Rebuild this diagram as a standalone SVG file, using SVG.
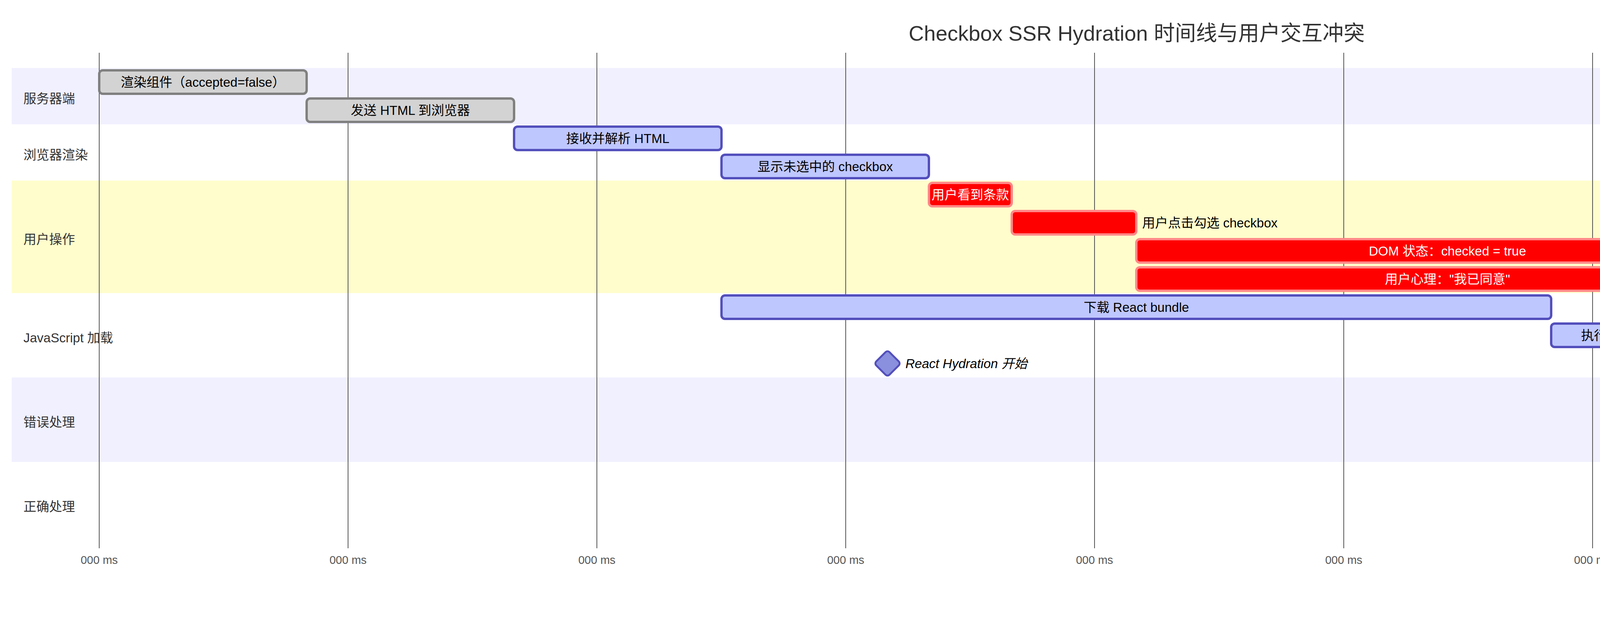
<svg xmlns="http://www.w3.org/2000/svg" width="5820" height="1584" viewBox="0 0 5820 1584">
<style>
text{font-family:"Liberation Sans","Noto Sans CJK SC",sans-serif;}
.title{font-size:54px;fill:#333;text-anchor:middle;}
.sec{font-size:33px;fill:#333;dominant-baseline:central;}
.grid{stroke:#555;stroke-width:2;}
.tick{font-size:29px;fill:#555;text-anchor:middle;}
.bar{stroke-width:6;}
.done{fill:#d3d3d3;stroke:#808080;}
.active{fill:#bfc7ff;stroke:#534fbc;}
.crit{fill:#ff0000;stroke:#ff8888;}
.tin{font-size:33px;text-anchor:middle;dominant-baseline:central;fill:#000;}
.tw{fill:#fff;}
.tout{font-size:33px;dominant-baseline:central;fill:#000;}
.ms{fill:#8a90dd;stroke:#534fbc;stroke-width:4.8;}
.mst{font-size:33px;font-style:italic;dominant-baseline:central;fill:#000;}
.x{fill:#dd2e44;}
.wm{font-size:26px;fill:#a8a8a8;}
</style>
<rect x="0" y="0" width="5820" height="1584" fill="#ffffff"/>
<text class="title" x="2910" y="104">Checkbox SSR Hydration 时间线与用户交互冲突</text>
<g id="sections">
<rect x="30" y="174" width="5648" height="144" fill="#f0f0ff"/>
<rect x="30" y="318" width="5648" height="144" fill="#ffffff"/>
<rect x="30" y="462" width="5648" height="288" fill="#fffdcc"/>
<rect x="30" y="750" width="5648" height="216" fill="#ffffff"/>
<rect x="30" y="966" width="5648" height="216" fill="#f0f0ff"/>
<rect x="30" y="1182" width="5648" height="216" fill="#ffffff"/>
<text class="sec" x="60" y="252">服务器端</text>
<text class="sec" x="60" y="396">浏览器渲染</text>
<text class="sec" x="60" y="612">用户操作</text>
<text class="sec" x="60" y="864">JavaScript 加载</text>
<text class="sec" x="60" y="1080">错误处理</text>
<text class="sec" x="60" y="1296">正确处理</text>
</g>
<g id="axis">
<line class="grid" x1="254" y1="135" x2="254" y2="1403"/>
<line class="grid" x1="891" y1="135" x2="891" y2="1403"/>
<line class="grid" x1="1528" y1="135" x2="1528" y2="1403"/>
<line class="grid" x1="2165" y1="135" x2="2165" y2="1403"/>
<line class="grid" x1="2802" y1="135" x2="2802" y2="1403"/>
<line class="grid" x1="3440" y1="135" x2="3440" y2="1403"/>
<line class="grid" x1="4077" y1="135" x2="4077" y2="1403"/>
<line class="grid" x1="4714" y1="135" x2="4714" y2="1403"/>
<line class="grid" x1="5351" y1="135" x2="5351" y2="1403"/>
<text class="tick" x="254" y="1443">000 ms</text>
<text class="tick" x="891" y="1443">000 ms</text>
<text class="tick" x="1528" y="1443">000 ms</text>
<text class="tick" x="2165" y="1443">000 ms</text>
<text class="tick" x="2802" y="1443">000 ms</text>
<text class="tick" x="3440" y="1443">000 ms</text>
<text class="tick" x="4077" y="1443">000 ms</text>
<text class="tick" x="4714" y="1443">000 ms</text>
<text class="tick" x="5351" y="1443">000 ms</text>
</g>
<g id="connectors"></g>
<g id="task-render">
<rect class="bar done" x="254" y="180" width="531" height="60" rx="9"/>
<text class="tin" x="519.5" y="210">渲染组件（accepted=false）</text>
</g>
<g id="task-send">
<rect class="bar done" x="785" y="252" width="531" height="60" rx="9"/>
<text class="tin" x="1050.5" y="282">发送 HTML 到浏览器</text>
</g>
<g id="task-parse">
<rect class="bar active" x="1316" y="324" width="531" height="60" rx="9"/>
<text class="tin" x="1581.5" y="354">接收并解析 HTML</text>
</g>
<g id="task-show">
<rect class="bar active" x="1847" y="396" width="531" height="60" rx="9"/>
<text class="tin" x="2112.5" y="426">显示未选中的 checkbox</text>
</g>
<g id="task-see">
<rect class="bar crit" x="2378" y="468" width="212" height="60" rx="9"/>
<text class="tin tw" x="2484" y="498">用户看到条款</text>
</g>
<g id="task-click">
<rect class="bar crit" x="2590" y="540" width="319" height="60" rx="9"/>
<text class="tout" x="2924" y="570">用户点击勾选 checkbox</text>
</g>
<g id="task-dom">
<rect class="bar crit" x="2909" y="612" width="1593" height="60" rx="9"/>
<text class="tin tw" x="3705.5" y="642">DOM 状态：checked = true</text>
</g>
<g id="task-mind1">
<rect class="bar crit" x="2909" y="684" width="1593" height="60" rx="9"/>
<text class="tin tw" x="3705.5" y="714">用户心理："我已同意"</text>
</g>
<g id="task-download">
<rect class="bar active" x="1847" y="756" width="2124" height="60" rx="9"/>
<text class="tin" x="2909" y="786">下载 React bundle</text>
</g>
<g id="task-init">
<rect class="bar active" x="3971" y="828" width="318" height="60" rx="9"/>
<text class="tin" x="4130" y="858">执行初始化</text>
</g>
<g id="milestone-hydration">
<rect class="ms" x="2248" y="906" width="48" height="48" rx="7" transform="rotate(45 2272 930)"/>
<text class="mst" x="2318" y="930">React Hydration 开始</text>
</g>
<g id="task-err-update">
<rect class="bar crit" x="4289" y="972" width="213" height="60" rx="9"/>
<text class="tout" x="4517" y="1002"><tspan class="x">❌</tspan> 执行 updateChecked</text>
</g>
<g id="task-err-set">
<rect class="bar crit" x="4502" y="1044" width="212" height="60" rx="9"/>
<text class="tout" x="4729" y="1074"><tspan class="x">❌</tspan> 设置 checked = false</text>
</g>
<g id="task-err-mind">
<rect class="bar crit" x="4714" y="1116" width="850" height="60" rx="9"/>
<text class="tin tw" x="5139" y="1146">用户心理："？？？"</text>
</g>
<g id="task-ok-skip">
<rect class="bar done" x="4289" y="1188" width="213" height="60" rx="9"/>
<text class="tout" x="4517" y="1218">✓ 跳过 updateChecked</text>
</g>
<g id="task-ok-keep">
<rect class="bar done" x="4502" y="1260" width="212" height="60" rx="9"/>
<text class="tout" x="4729" y="1290">✓ 保留 checked = true</text>
</g>
<g id="task-ok-mind">
<rect class="bar done" x="4714" y="1332" width="850" height="60" rx="9"/>
<text class="tin" x="5139" y="1362">用户心理："很流畅"</text>
</g>
<text class="wm" x="5496" y="1542">掘金技术社区 @ Moment</text>
</svg>
